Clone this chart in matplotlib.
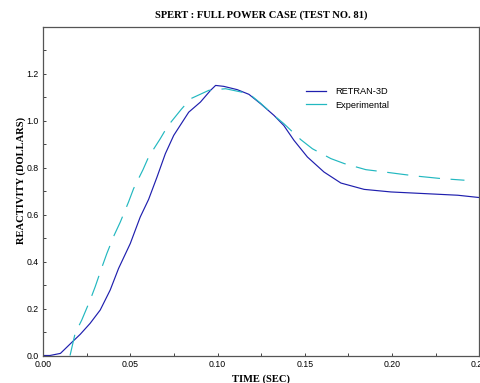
import matplotlib
matplotlib.use("Agg")
import matplotlib.pyplot as plt
from matplotlib.ticker import MultipleLocator, FormatStrFormatter
from matplotlib.lines import Line2D

# RETRAN-3D calculation
retran_t = [0.000, 0.004, 0.010, 0.0165, 0.0213, 0.027, 0.0328, 0.0385, 0.0433, 0.050,
            0.0557, 0.0605, 0.0653, 0.0701, 0.0749, 0.0835, 0.0902, 0.096, 0.0989, 0.1036,
            0.1113, 0.118, 0.1247, 0.1324, 0.138, 0.1438, 0.1515, 0.161, 0.1707, 0.184,
            0.1994, 0.2186, 0.2377, 0.2502]
retran_r = [0.000, 0.000, 0.009, 0.056, 0.090, 0.137, 0.194, 0.279, 0.371, 0.477,
            0.590, 0.665, 0.760, 0.860, 0.938, 1.037, 1.080, 1.130, 1.151, 1.147,
            1.133, 1.113, 1.073, 1.023, 0.980, 0.917, 0.846, 0.782, 0.735, 0.708,
            0.697, 0.690, 0.683, 0.673]

# Experimental data
exp_t = [0.0155, 0.0184, 0.0222, 0.027, 0.0299, 0.0337, 0.0366, 0.0408, 0.0443, 0.049,
         0.0519, 0.0573, 0.0605, 0.0672, 0.0714, 0.0791, 0.0845, 0.095, 0.1046, 0.118,
         0.1247, 0.1324, 0.138, 0.1477, 0.1544, 0.165, 0.1726, 0.185, 0.1927, 0.2061,
         0.2148, 0.2282, 0.2358, 0.2415]
exp_r = [0.000, 0.094, 0.151, 0.236, 0.293, 0.375, 0.435, 0.513, 0.569, 0.654,
         0.711, 0.792, 0.846, 0.924, 0.977, 1.048, 1.094, 1.130, 1.137, 1.116,
         1.075, 1.023, 0.988, 0.920, 0.881, 0.839, 0.818, 0.792, 0.785, 0.772,
         0.764, 0.754, 0.750, 0.747]

series_labels = ["RETRAN-3D", "Experimental"]
title = "SPERT : FULL POWER CASE (TEST NO. 81)"
xlabel = "TIME (SEC)"
ylabel = "REACTIVITY (DOLLARS)"

W, H = 481, 383
fig = plt.figure(figsize=(W / 100, H / 100), dpi=100)
ax = fig.add_axes([43 / W, 1 - 355.5 / H, (479.3 - 43) / W, (355.5 - 27) / H])

blue = "#1f1fae"
cyan = "#22b8c0"
ax.plot(retran_t, retran_r, color=blue, lw=0.85, label=series_labels[0])
ax.plot(exp_t, exp_r, color=cyan, lw=0.85, label=series_labels[1], dashes=(18, 9))

ax.set_xlim(0, 0.25)
ax.set_ylim(0, 1.4)
ax.xaxis.set_major_locator(MultipleLocator(0.05))
ax.xaxis.set_minor_locator(MultipleLocator(0.025))
ax.yaxis.set_minor_locator(MultipleLocator(0.1))
ax.set_yticks([0, 0.2, 0.4, 0.6, 0.8, 1.0, 1.2])
ax.xaxis.set_major_formatter(FormatStrFormatter("%.2f"))
ax.yaxis.set_major_formatter(FormatStrFormatter("%.1f"))

ax.tick_params(which="both", direction="in", labelsize=6.3, color="#444444",
               width=0.7, pad=3)
ax.tick_params(which="major", length=2.4)
ax.tick_params(which="minor", length=2.0)
for lab in ax.get_xticklabels() + ax.get_yticklabels():
    lab.set_family("Liberation Sans")
for s in ax.spines.values():
    s.set_color("#555555")
    s.set_linewidth(0.9)

serif = dict(family="Liberation Serif", weight="bold", size=7.6)
ax.set_title(title, fontdict=serif, pad=7)
ax.set_xlabel(xlabel, fontdict=serif, labelpad=4)
ax.set_ylabel(ylabel, fontdict=serif)
ax.yaxis.set_label_coords(-0.038, 0.534)

handles = [Line2D([], [], color=blue, lw=0.9), Line2D([], [], color=cyan, lw=0.9)]
fig.legend(handles, series_labels, loc="upper left",
           bbox_to_anchor=(306 / W, 1 - 87.5 / H), frameon=False,
           prop={"family": "Liberation Sans", "size": 6.7},
           borderpad=0, borderaxespad=0, handlelength=2.1, handletextpad=1.0,
           labelspacing=0.45)

fig.savefig("out.png", dpi=100)
